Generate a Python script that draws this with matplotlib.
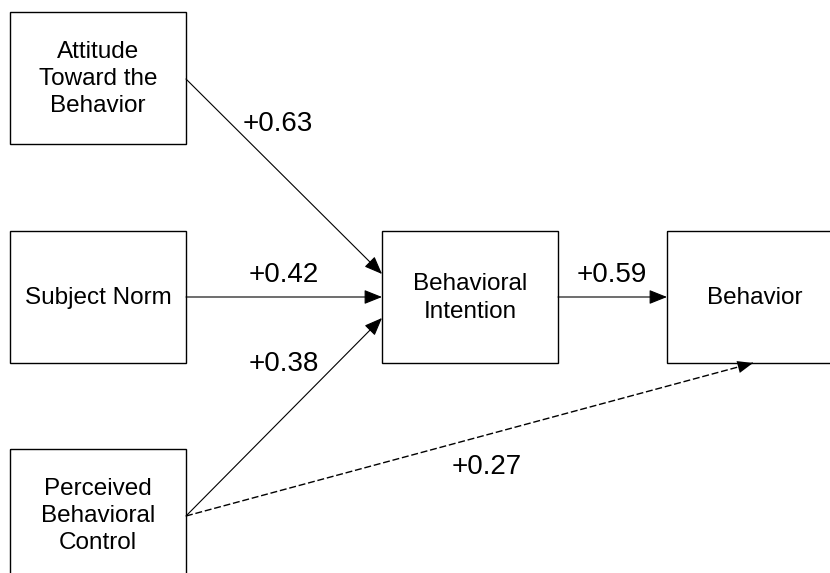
import matplotlib
matplotlib.use('Agg')
import matplotlib.pyplot as plt
from matplotlib.patches import Rectangle, FancyArrowPatch

plt.rcParams['font.family'] = ['Liberation Sans', 'DejaVu Sans']

# node labels and path coefficients
nodes = ['Attitude\nToward the\nBehavior', 'Subject Norm',
         'Perceived\nBehavioral\nControl', 'Behavioral\nIntention', 'Behavior']
paths = [(0, 3), (1, 3), (2, 3), (3, 4), (2, 4)]
coefs = [0.63, 0.42, 0.38, 0.59, 0.27]
dashed = [False, False, False, False, True]

# layout in pixel space (x, y of top-left corner)
box_w, box_h = 176, 132
corners = [(10, 12), (10, 231), (10, 449), (382, 231), (667, 231)]
# arrow start / end points
ends = [((186, 79), (382, 274)),
        ((186, 297), (382, 297)),
        ((186, 516), (382, 318)),
        ((558, 297), (667, 297)),
        ((186, 516), (753, 363))]
label_pos = [(278, 124), (284, 275), (284, 364), (612, 275), (487, 467)]

fig = plt.figure(figsize=(8.3, 5.73), dpi=100)
ax = fig.add_axes([0, 0, 1, 1])
ax.set_xlim(0, 830)
ax.set_ylim(573, 0)
ax.axis('off')

for name, (x, y) in zip(nodes, corners):
    ax.add_patch(Rectangle((x, y), box_w, box_h, fill=False, ec='black', lw=1))
    ax.text(x + box_w/2, y + box_h/2 + 1, name, ha='center', va='center',
            fontsize=17.5, linespacing=1.32)

head = '-|>,head_length=0.85,head_width=0.34'
for (a, b), dash in zip(ends, dashed):
    if dash:
        ax.plot([a[0], b[0]], [a[1], b[1]], color='black', lw=1, ls=(0, (5, 2)))
        # solid head on the last bit
        dx, dy = b[0] - a[0], b[1] - a[1]
        a = (b[0] - dx*0.03, b[1] - dy*0.03)
        arr = FancyArrowPatch(a, b, arrowstyle=head, mutation_scale=13,
                              color='black', lw=0, shrinkA=0, shrinkB=0)
    else:
        arr = FancyArrowPatch(a, b, arrowstyle=head, mutation_scale=13,
                              color='black', lw=0.8, shrinkA=0, shrinkB=0)
    ax.add_patch(arr)

for c, (x, y) in zip(coefs, label_pos):
    ax.text(x, y, '+%.2f' % c, ha='center', va='center', fontsize=20)

fig.savefig('out.png', dpi=100)
